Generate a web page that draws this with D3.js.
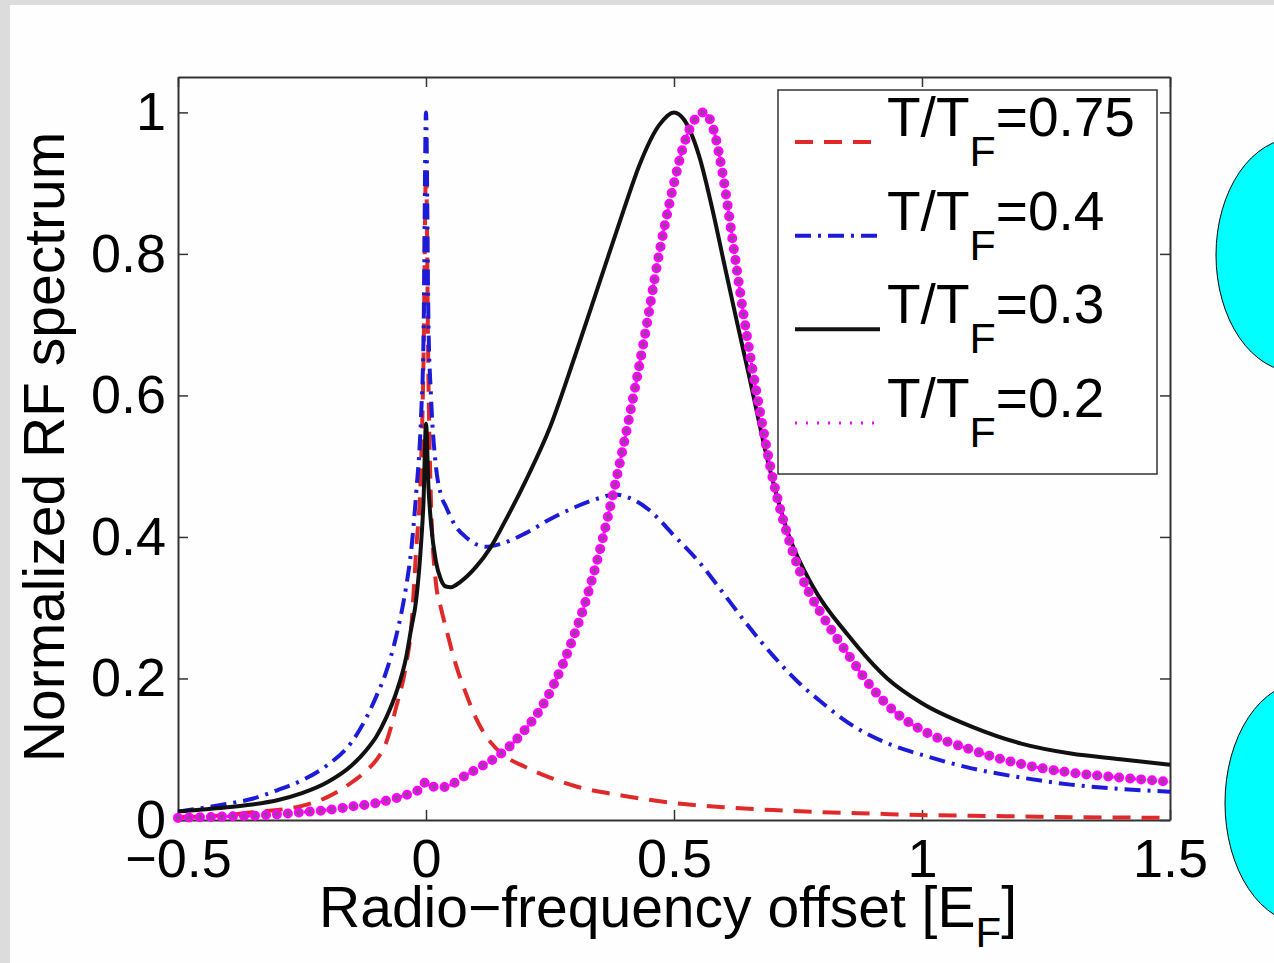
<!DOCTYPE html>
<html lang="en">
<head>
  <meta charset="UTF-8" />
  <title>Normalized RF spectrum</title>
  <script src="https://d3js.org/d3.v7.min.js"></script>
  <style>
    html, body { margin: 0; padding: 0; background: #dcdcdc; }
    svg { display: block; }
    text { font-family: "Liberation Sans", Arial, Helvetica, sans-serif; fill: #000; }
  </style>
</head>
<body>
  <svg id="chart" width="1274" height="963"></svg>

  <script>
    // ---- data ----
    const xTicks = [-0.5, 0, 0.5, 1, 1.5];
    const yTicks = [0, 0.2, 0.4, 0.6, 0.8, 1];
    const seriesNames = ["0.75", "0.4", "0.3", "0.2"];

    const x075 = [-0.5, -0.45, -0.4, -0.35, -0.3, -0.25, -0.2, -0.15, -0.12, -0.1, -0.08, -0.06, -0.04, -0.03, -0.02, -0.01, -0.005, 0, 0.005, 0.01, 0.02, 0.03, 0.04, 0.06, 0.08, 0.1, 0.13, 0.16, 0.2, 0.25, 0.3, 0.4, 0.5, 0.6, 0.7, 0.8, 0.9, 1.0, 1.1, 1.2, 1.3, 1.4, 1.5];
    const y075 = [0.004, 0.005, 0.007, 0.011, 0.014, 0.02, 0.032, 0.053, 0.07, 0.085, 0.11, 0.16, 0.22, 0.27, 0.38, 0.5, 0.65, 0.92, 0.62, 0.45, 0.335, 0.3, 0.272, 0.22, 0.18, 0.145, 0.11, 0.09, 0.075, 0.06, 0.048, 0.034, 0.024, 0.018, 0.014, 0.011, 0.009, 0.007, 0.006, 0.005, 0.004, 0.0035, 0.003];

    const x04 = [-0.5, -0.45, -0.4, -0.35, -0.3, -0.25, -0.2, -0.15, -0.12, -0.1, -0.08, -0.06, -0.04, -0.03, -0.02, -0.01, -0.005, 0, 0.005, 0.01, 0.02, 0.03, 0.04, 0.06, 0.08, 0.1, 0.12, 0.15, 0.2, 0.25, 0.3, 0.35, 0.38, 0.42, 0.45, 0.5, 0.55, 0.6, 0.65, 0.7, 0.75, 0.8, 0.85, 0.9, 0.95, 1.0, 1.1, 1.2, 1.3, 1.4, 1.5];
    const y04 = [0.012, 0.017, 0.023, 0.03, 0.042, 0.056, 0.077, 0.11, 0.145, 0.175, 0.21, 0.26, 0.33, 0.38, 0.46, 0.57, 0.68, 1.0, 0.7, 0.6, 0.5, 0.46, 0.443, 0.415, 0.4, 0.39, 0.386, 0.39, 0.405, 0.425, 0.442, 0.455, 0.46, 0.452, 0.438, 0.402, 0.365, 0.32, 0.274, 0.232, 0.195, 0.165, 0.138, 0.118, 0.103, 0.092, 0.073, 0.06, 0.05, 0.044, 0.04];

    const x03 = [-0.5, -0.45, -0.4, -0.35, -0.3, -0.25, -0.2, -0.15, -0.12, -0.1, -0.08, -0.06, -0.04, -0.03, -0.02, -0.01, -0.005, 0, 0.005, 0.01, 0.02, 0.03, 0.04, 0.05, 0.07, 0.1, 0.13, 0.16, 0.2, 0.25, 0.3, 0.35, 0.4, 0.43, 0.47, 0.5, 0.52, 0.55, 0.58, 0.6, 0.625, 0.65, 0.69, 0.73, 0.78, 0.85, 0.93, 1.0, 1.1, 1.2, 1.3, 1.4, 1.5];
    const y03 = [0.012, 0.015, 0.018, 0.022, 0.028, 0.038, 0.053, 0.077, 0.099, 0.118, 0.145, 0.18, 0.23, 0.27, 0.31, 0.39, 0.45, 0.56, 0.47, 0.42, 0.365, 0.34, 0.33, 0.329, 0.337, 0.357, 0.385, 0.423, 0.478, 0.555, 0.655, 0.76, 0.865, 0.925, 0.982, 1.0, 0.99, 0.94, 0.855, 0.79, 0.71, 0.632, 0.505, 0.405, 0.33, 0.262, 0.2, 0.165, 0.132, 0.108, 0.094, 0.086, 0.078];

    const x02 = [-0.5, -0.45, -0.4, -0.35, -0.3, -0.25, -0.2, -0.15, -0.1, -0.06, -0.03, -0.01, 0, 0.01, 0.03, 0.05, 0.08, 0.11, 0.14, 0.17, 0.2, 0.23, 0.26, 0.29, 0.32, 0.35, 0.38, 0.41, 0.44, 0.47, 0.5, 0.52, 0.54, 0.56, 0.58, 0.6, 0.62, 0.64, 0.67, 0.7, 0.73, 0.76, 0.8, 0.85, 0.9, 0.95, 1.0, 1.1, 1.2, 1.3, 1.4, 1.5];
    const y02 = [0.003, 0.004, 0.005, 0.006, 0.008, 0.011, 0.014, 0.019, 0.024, 0.031, 0.038, 0.045, 0.054, 0.048, 0.046, 0.05, 0.063, 0.075, 0.088, 0.105, 0.128, 0.156, 0.195, 0.245, 0.305, 0.38, 0.47, 0.57, 0.68, 0.8, 0.9, 0.955, 0.988, 1.0, 0.975, 0.905, 0.81, 0.715, 0.59, 0.48, 0.4, 0.34, 0.288, 0.235, 0.186, 0.15, 0.127, 0.099, 0.079, 0.067, 0.06, 0.054];

    // ---- layout ----
    const svg = d3.select("#chart");
    const plot = { left: 178, right: 1170, top: 77, bottom: 820 };
    const axisColor = "#333";
    const fontSize = 54;
    const fontFamily = "'Liberation Sans', Arial, Helvetica, sans-serif";

    const styles = {
      "0.75": { color: "#e02a2a", width: 4, dash: "18 11" },
      "0.4":  { color: "#1b1bd8", width: 4, dash: "16 7 3 7" },
      "0.3":  { color: "#111111", width: 4, dash: null },
      "0.2":  { color: "#ff00ff", width: 3, dash: "2 5" }
    };

    const series = [
      { name: "0.75", xs: x075, ys: y075 },
      { name: "0.4",  xs: x04,  ys: y04 },
      { name: "0.3",  xs: x03,  ys: y03 },
      { name: "0.2",  xs: x02,  ys: y02 }
    ];

    // white panel on the grey page
    svg.append("rect").attr("x", 10).attr("y", 5)
      .attr("width", 1264).attr("height", 958).attr("fill", "#fefefe");

    const x = d3.scaleLinear().domain([-0.5, 1.5]).range([plot.left, plot.right]);
    const y = d3.scaleLinear().domain([0, 1.05]).range([plot.bottom, plot.top]);

    const fmt = d => (d < 0 ? "\u2212" : "") + Math.abs(d);

    // axes, MATLAB style: ticks pointing in, full box
    const axes = svg.append("g");

    axes.append("g").attr("transform", `translate(0,${plot.bottom})`)
      .call(d3.axisBottom(x).tickValues(xTicks).tickFormat(fmt).tickSizeInner(-10).tickSizeOuter(0).tickPadding(19));
    axes.append("g").attr("transform", `translate(0,${plot.top})`)
      .call(d3.axisTop(x).tickValues(xTicks).tickFormat("").tickSizeInner(-10).tickSizeOuter(0));
    axes.append("g").attr("transform", `translate(${plot.left},0)`)
      .call(d3.axisLeft(y).tickValues(yTicks).tickFormat(fmt).tickSizeInner(-10).tickSizeOuter(0).tickPadding(12));
    axes.append("g").attr("transform", `translate(${plot.right},0)`)
      .call(d3.axisRight(y).tickValues(yTicks).tickFormat("").tickSizeInner(-10).tickSizeOuter(0));

    axes.selectAll("g").attr("font-size", fontSize).attr("font-family", fontFamily);
    axes.selectAll(".domain").attr("stroke", axisColor).attr("stroke-width", 2);
    axes.selectAll(".tick line").attr("stroke", axisColor).attr("stroke-width", 1.5);
    axes.selectAll(".tick text").attr("fill", "#000");

    // curves
    const line = d3.line()
      .x(d => x(d[0]))
      .y(d => y(d[1]))
      .curve(d3.curveMonotoneX);

    const curves = svg.append("g").attr("fill", "none");
    series.forEach(s => {
      const st = styles[s.name];
      const pts = s.xs.map((v, i) => [v, s.ys[i]]);
      curves.append("path")
        .attr("d", line(pts))
        .attr("stroke", st.color)
        .attr("stroke-width", st.width)
        .attr("stroke-dasharray", st.dash)
        .attr("stroke-linejoin", "round");
      if (s.name === "0.2") {
        // circle markers along the dotted line
        curves.append("path").attr("d", line(pts))
          .attr("stroke", "#ff00ff").attr("stroke-width", 10)
          .attr("stroke-linecap", "round").attr("stroke-dasharray", "0 11");
        curves.append("path").attr("d", line(pts))
          .attr("stroke", "#9a3f9a").attr("stroke-width", 5)
          .attr("stroke-linecap", "round").attr("stroke-dasharray", "0 11");
      }
    });

    // axis titles
    svg.append("text")
      .attr("transform", `translate(64,447) rotate(-90)`)
      .attr("text-anchor", "middle")
      .attr("font-size", 57)
      .text("Normalized RF spectrum");

    const xt = svg.append("text")
      .attr("x", 668).attr("y", 927)
      .attr("text-anchor", "middle")
      .attr("font-size", 57);
    xt.append("tspan").text("Radio\u2212frequency offset [E");
    xt.append("tspan").attr("font-size", 42).attr("dy", 20).text("F");
    xt.append("tspan").attr("dy", -20).text("]");

    // legend
    const legend = svg.append("g");
    legend.append("rect")
      .attr("x", 778).attr("y", 90).attr("width", 379).attr("height", 384)
      .attr("fill", "#fff").attr("stroke", axisColor).attr("stroke-width", 1.5);

    const rowY = d3.scalePoint().domain(seriesNames).range([142, 423]);
    seriesNames.forEach(name => {
      const st = styles[name];
      const ly = rowY(name);
      legend.append("line")
        .attr("x1", 795).attr("x2", 880).attr("y1", ly).attr("y2", ly)
        .attr("stroke", st.color).attr("stroke-width", name === "0.2" ? 3 : st.width)
        .attr("stroke-dasharray", name === "0.2" ? "2 9" : st.dash);
      const t = legend.append("text")
        .attr("x", 887).attr("y", ly - 6)
        .attr("font-size", 55);
      t.append("tspan").text("T/T");
      t.append("tspan").attr("font-size", 43).attr("dy", 30).text("F");
      t.append("tspan").attr("dy", -30).text("=" + name);
    });

    // decorative cyan shapes at the right edge of the slide
    const blobs = [
      { cx: 1296, cy: 255, rx: 80, ry: 117 },
      { cx: 1305, cy: 803, rx: 80, ry: 121 }
    ];
    svg.append("g").selectAll("ellipse")
      .data(blobs)
      .join("ellipse")
      .attr("cx", d => d.cx).attr("cy", d => d.cy)
      .attr("rx", d => d.rx).attr("ry", d => d.ry)
      .attr("fill", "#00ffff").attr("stroke", "#000").attr("stroke-width", 1);
  </script>
</body>
</html>
